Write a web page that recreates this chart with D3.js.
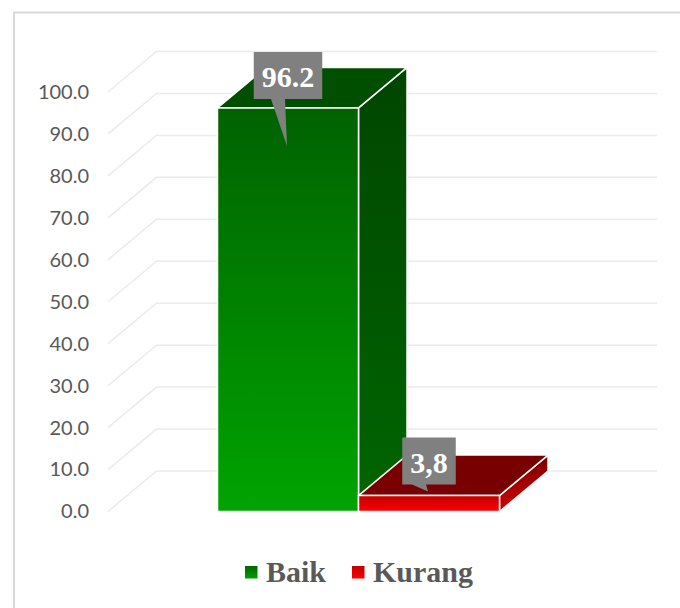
<!DOCTYPE html>
<html><head><meta charset="utf-8">
<script src="https://cdn.jsdelivr.net/npm/d3@7"></script>
<style>body{margin:0;background:#fff}svg{display:block}</style>
</head><body>
<svg id="c" width="680" height="608"></svg>
<script>
const categories = ["Baik", "Kurang"];
const values = [96.2, 3.8];
const valueLabels = ["96.2", "3,8"];
const tickValues = [0, 10, 20, 30, 40, 50, 60, 70, 80, 90, 100];
const calloutTip = [38, -4];   // pointer length below bar top (style)

const svg = d3.select("#c");
const W = 680, H = 608;
const dx = 48.5, dy = -40.5;
const frontLeft = 108, backRight = 657;

const y = d3.scaleLinear().domain([0, 100]).range([511.5, 92]);
const x = d3.scaleBand().domain(categories).range([217.5, 499.5]).paddingInner(0).paddingOuter(0);

const defs = svg.append("defs");
function grad(id, c1, c2) {
  const g = defs.append("linearGradient").attr("id", id).attr("x1", 0).attr("y1", 0).attr("x2", 0).attr("y2", 1);
  g.append("stop").attr("offset", "0%").attr("stop-color", c1);
  g.append("stop").attr("offset", "100%").attr("stop-color", c2);
}
grad("gFront0", "#006200", "#00a400");
grad("gSide0", "#004600", "#006600");
grad("gTop0", "#004e00", "#004e00");
grad("gFront1", "#c00000", "#ff0000");
grad("gSide1", "#7a0000", "#d00000");
grad("gTop1", "#780000", "#780000");
grad("gLeg0", "#006400", "#00a000");
grad("gLeg1", "#c00000", "#ff0000");

// chart border
svg.append("rect").attr("x", 14).attr("y", 12.5).attr("width", 700).attr("height", 620)
  .attr("fill", "none").attr("stroke", "#d9d9d9").attr("stroke-width", 2);

// 3D gridlines
const grid = svg.append("g");
tickValues.forEach(t => {
  const fy = y(t);
  grid.append("path")
    .attr("d", `M${frontLeft},${fy}L${frontLeft + dx},${fy + dy}L${backRight},${fy + dy}`)
    .attr("fill", "none").attr("stroke", "#ebebeb").attr("stroke-width", 1.5);
});

// axis
const axis = d3.axisLeft(y).tickValues(tickValues).tickFormat(d3.format(".1f")).tickSize(0).tickPadding(19);
const ag = svg.append("g").attr("transform", `translate(${frontLeft},0)`).call(axis);
ag.select(".domain").remove();
ag.selectAll("text").attr("font-family", "Lato, 'Open Sans', sans-serif").attr("font-size", 20).attr("fill", "#595959");

// bars
const bars = svg.append("g");
categories.forEach((c, i) => {
  const x0 = x(c), x1 = x(c) + x.bandwidth();
  const yt = y(values[i]), yb = y(0);
  const g = bars.append("g");
  const st = { stroke: "#ffffff", "stroke-width": 1.5, "stroke-linejoin": "round" };
  // side
  const side = g.append("path")
    .attr("d", `M${x1},${yt}L${x1 + dx},${yt + dy}L${x1 + dx},${yb + dy}L${x1},${yb}Z`)
    .attr("fill", `url(#gSide${i})`);
  // top
  const top = g.append("path")
    .attr("d", `M${x0},${yt}L${x0 + dx},${yt + dy}L${x1 + dx},${yt + dy}L${x1},${yt}Z`)
    .attr("fill", `url(#gTop${i})`);
  // front
  const front = g.append("rect")
    .attr("x", x0).attr("y", yt).attr("width", x1 - x0).attr("height", yb - yt)
    .attr("fill", `url(#gFront${i})`);
  [side, top, front].forEach(s => Object.entries(st).forEach(([k, v]) => s.attr(k, v)));
});

// callout labels
const labels = svg.append("g");
categories.forEach((c, i) => {
  const cx = x(c) + x.bandwidth() / 2;
  const yt = y(values[i]);
  const boxBottom = yt - (i === 0 ? 9 : 11);
  const boxH = 47;
  const g = labels.append("g");
  const t = g.append("text").text(valueLabels[i])
    .attr("font-family", "'Liberation Serif', 'Times New Roman', serif")
    .attr("font-weight", "bold").attr("font-size", 30).attr("fill", "#ffffff")
    .attr("text-anchor", "middle").attr("x", cx).attr("y", boxBottom - boxH + 35);
  const tw = t.node().getComputedTextLength();
  const bw = tw + 16;
  const bx = cx - bw / 2, by = boxBottom - boxH;
  const tipY = yt + calloutTip[i];
  g.insert("path", "text")
    .attr("d", `M${bx},${by}H${bx + bw}V${boxBottom}H${cx - 3}L${cx - 1},${tipY}L${cx - 17},${boxBottom}H${bx}Z`)
    .attr("fill", "#808080");
});

// legend
const legend = svg.append("g");
const legX = [245, 352];
categories.forEach((c, i) => {
  legend.append("rect").attr("x", legX[i]).attr("y", 566).attr("width", 12.5).attr("height", 12.5)
    .attr("fill", `url(#gLeg${i})`);
  legend.append("text").text(c).attr("x", legX[i] + 21).attr("y", 582)
    .attr("font-family", "'Liberation Serif', 'Times New Roman', serif")
    .attr("font-weight", "bold").attr("font-size", 30).attr("fill", "#595959");
});
</script>
</body></html>
